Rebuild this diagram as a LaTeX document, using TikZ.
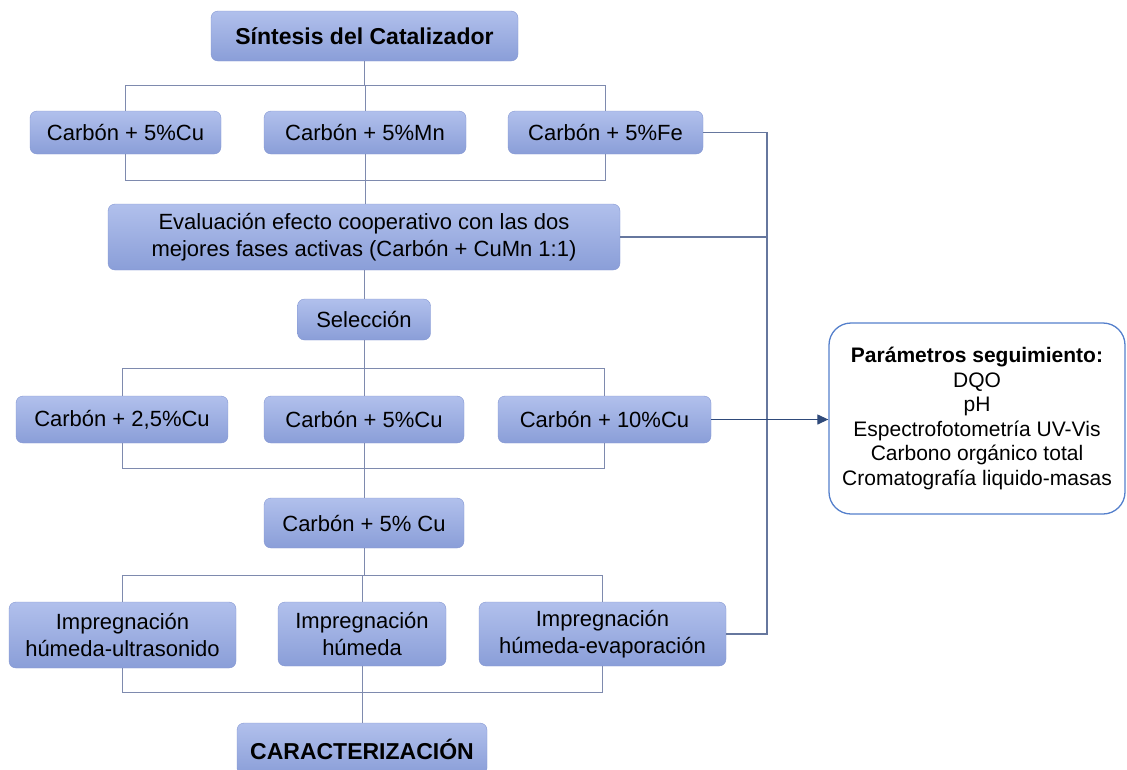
\documentclass[tikz,border=0pt]{standalone}
\usepackage{fontspec}
\setmainfont{Liberation Sans}
\usepackage{tikz}
\usetikzlibrary{arrows.meta}

\definecolor{boxtop}{HTML}{B1C0EC}
\definecolor{boxbot}{HTML}{8A9ED8}
\definecolor{boxline}{HTML}{8497D2}
\definecolor{linkgray}{HTML}{7E8AAE}
\definecolor{busblue}{HTML}{66779E}
\definecolor{arrowblue}{HTML}{2F4A7A}
\definecolor{paramblue}{HTML}{5580CC}

\begin{document}
\begin{tikzpicture}[x=1pt,y=-1pt,
    stage/.style={draw=boxline,rounded corners=7pt,top color=boxtop,bottom color=boxbot,
        align=center,inner sep=0pt,font=\fontsize{22}{26.5}\selectfont},
    title/.style={stage,font=\fontsize{23}{26}\selectfont\bfseries},
    link/.style={draw=linkgray,line width=1pt},
    bus/.style={draw=busblue,line width=1.1pt}]
    \useasboundingbox (0,0) rectangle (1127,769);

    % Synthesis
    \node[title,minimum width=307,minimum height=50] (sint) at (364.5,36) {Síntesis del Catalizador};
    \foreach \n/\x/\w/\t in {cu/125.5/191/{Carbón + 5\%Cu},mn/365/202/{Carbón + 5\%Mn},fe/605.5/195/{Carbón + 5\%Fe}}
        \node[stage,minimum width=\w,minimum height=43] (\n) at (\x,132.5) {\t};
    \node[stage,minimum width=512,minimum height=66] (eval) at (364,237)
        {Evaluación efecto cooperativo con las dos\\mejores fases activas (Carbón + CuMn 1:1)};

    % Selection
    \node[stage,minimum width=133,minimum height=41] (sel) at (364,319.5) {Selección};
    \foreach \n/\x/\w/\t in {ca/122/212/{Carbón + 2,5\%Cu},cb/364/200/{Carbón + 5\%Cu},cc/604.5/213/{Carbón + 10\%Cu}}
        \node[stage,minimum width=\w,minimum height=47] (\n) at (\x,419.5) {\t};
    \node[stage,minimum width=200,minimum height=50] (csel) at (364,523) {Carbón + 5\% Cu};

    % Impregnation
    \node[stage,minimum width=227,minimum height=66] (ius) at (122.5,635) {Impregnación\\húmeda-ultrasonido};
    \node[stage,minimum width=168,minimum height=64] (ih) at (362,634) {Impregnación\\húmeda};
    \node[stage,minimum width=247,minimum height=64] (iev) at (602.5,634) {Impregnación\\húmeda-evaporación};
    \node[title,minimum width=250,minimum height=52] (car) at (362,749) {CARACTERIZACIÓN};

    % Monitoring
    \node[draw=paramblue,line width=1.3pt,rounded corners=22pt,fill=white,align=center,
          minimum width=296,minimum height=191,inner sep=0pt,font=\fontsize{21}{24.6}\selectfont]
          (param) at (977,418.5)
          {\textbf{Parámetros seguimiento:}\\DQO\\pH\\Espectrofotometría UV-Vis\\Carbono orgánico total\\Cromatografía liquido-masas};

    % Brackets
    \coordinate (t1) at (0,85);
    \coordinate (b1) at (0,180);
    \coordinate (t2) at (0,368);
    \coordinate (b2) at (0,468);
    \coordinate (t3) at (0,575);
    \coordinate (b3) at (0,692);
    \draw[link] (sint.south) -- (sint.south |- t1);
    \draw[link] (cu.north) -- (cu.north |- t1) -- (fe.north |- t1) -- (fe.north);
    \draw[link] (mn.north) -- (mn.north |- t1);
    \draw[link] (cu.south) -- (cu.south |- b1) -- (fe.south |- b1) -- (fe.south);
    \draw[link] (mn.south) -- (mn.south |- eval.north);
    \draw[link] (eval.south) -- (sel.north);
    \draw[link] (sel.south) -- (sel.south |- t2);
    \draw[link] (ca.north) -- (ca.north |- t2) -- (cc.north |- t2) -- (cc.north);
    \draw[link] (cb.north) -- (cb.north |- t2);
    \draw[link] (ca.south) -- (ca.south |- b2) -- (cc.south |- b2) -- (cc.south);
    \draw[link] (cb.south) -- (csel.north);
    \draw[link] (csel.south) -- (csel.south |- t3);
    \draw[link] (ius.north) -- (ius.north |- t3) -- (iev.north |- t3) -- (iev.north);
    \draw[link] (ih.north) -- (ih.north |- t3);
    \draw[link] (ius.south) -- (ius.south |- b3) -- (iev.south |- b3) -- (iev.south);
    \draw[link] (ih.south) -- (car.north);

    % Right bus
    \coordinate (r1) at (767,0);
    \draw[bus] (fe.east) -- (fe.east -| r1) -- (iev.east -| r1) -- (iev.east);
    \draw[bus] (eval.east) -- (eval.east -| r1);
    \draw[draw=arrowblue,line width=1.2pt,-{Triangle[length=11pt,width=10pt]}] (cc.east) -- (cc.east -| param.west);
\end{tikzpicture}
\end{document}
